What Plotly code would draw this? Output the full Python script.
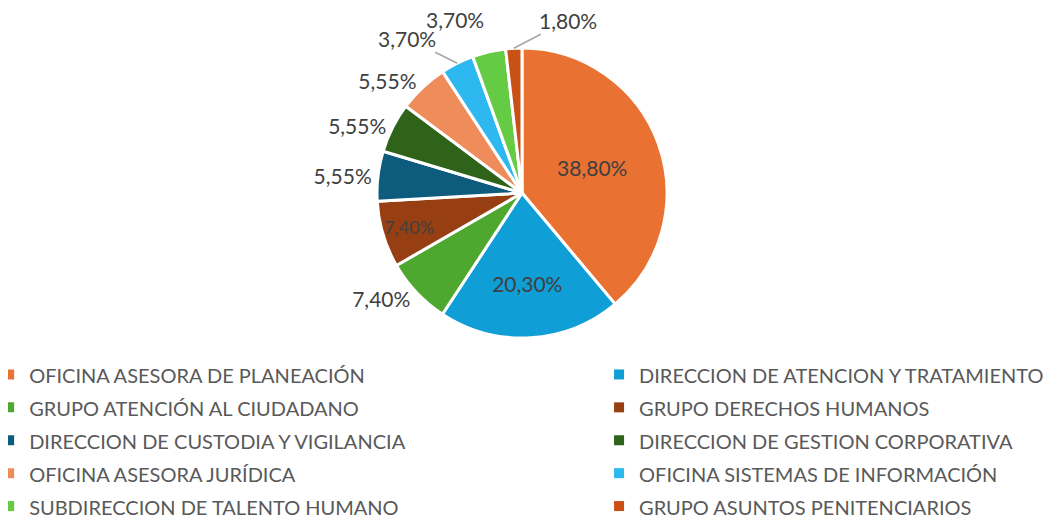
import math
import plotly.graph_objects as go

categories = [
    "OFICINA ASESORA DE PLANEACIÓN",
    "DIRECCION DE ATENCION Y TRATAMIENTO",
    "GRUPO ATENCIÓN AL CIUDADANO",
    "GRUPO DERECHOS HUMANOS",
    "DIRECCION DE CUSTODIA Y VIGILANCIA",
    "DIRECCION DE GESTION CORPORATIVA",
    "OFICINA ASESORA JURÍDICA",
    "OFICINA SISTEMAS DE INFORMACIÓN",
    "SUBDIRECCION DE TALENTO HUMANO",
    "GRUPO ASUNTOS PENITENCIARIOS",
]
values = [38.80, 20.30, 7.40, 7.40, 5.55, 5.55, 5.55, 3.70, 3.70, 1.80]
colors = ["#E97132", "#0F9ED5", "#4EA72E", "#973F12", "#0D5C7D",
          "#2E6319", "#EE8C5C", "#2DB8EF", "#65CB45", "#CA5116"]
# "ann" = label drawn as an annotation next to the slice (crowded top slices)
text_positions = ["inside", "inside", "outside", "inside", "outside",
                  "outside", "outside", "ann", "ann", "ann"]
# pixel offsets of the annotated labels from the slice edge, and whether a leader line shows
label_offsets = {7: (-50, -25, True), 8: (-34, -32, False), 9: (54, -28, True)}

FONT = "Lato"
W, H = 1060, 521
R_PX = 145
DOM_X = [0.2, 0.7698]
DOM_Y = [0.3666, 0.9232]

fig = go.Figure()
fig.add_trace(go.Pie(
    labels=categories,
    values=values,
    sort=False,
    direction="clockwise",
    rotation=0,
    marker=dict(colors=colors, line=dict(color="white", width=3)),
    texttemplate=["%{value:.2f}%" if p != "ann" else "" for p in text_positions],
    textposition=[p if p != "ann" else "none" for p in text_positions],
    insidetextorientation="horizontal",
    textfont=dict(family=FONT, size=21, color="#404040"),
    domain=dict(x=DOM_X, y=DOM_Y),
    hoverinfo="skip",
    showlegend=False,
))

# annotated labels for the small top slices, anchored at the slice's outer edge
total = sum(values)
cum = 0.0
cxp = (DOM_X[0] + DOM_X[1]) / 2
cyp = (DOM_Y[0] + DOM_Y[1]) / 2
for i, v in enumerate(values):
    mid = (cum + v / 2) / total * 2 * math.pi
    cum += v
    if text_positions[i] != "ann":
        continue
    ax, ay, leader = label_offsets[i]
    px = cxp + R_PX * math.sin(mid) / W
    py = cyp + R_PX * math.cos(mid) / H
    label = ("%.2f%%" % v).replace(".", ",")
    fig.add_annotation(x=px, y=py, xref="paper", yref="paper", text=label,
                       showarrow=True, ax=ax, ay=ay, arrowhead=0,
                       arrowwidth=1.5,
                       arrowcolor="#A6A6A6" if leader else "rgba(0,0,0,0)",
                       standoff=0,
                       font=dict(family=FONT, size=21, color="#404040"))

# Legend entries (two columns, row-wise order like the reference)
for i, (cat, col) in enumerate(zip(categories, colors)):
    fig.add_trace(go.Scatter(
        x=[None], y=[None], mode="markers",
        marker=dict(symbol="square", size=10, color=col),
        name='<span style="font-size:20px">%s</span>' % cat,
        legend="legend" if i % 2 == 0 else "legend2",
        hoverinfo="skip",
    ))

legend_common = dict(
    orientation="v",
    yanchor="top", xanchor="left",
    font=dict(family=FONT, size=23, color="#595959"),
    itemclick=False, itemdoubleclick=False,
    traceorder="normal",
    bgcolor="rgba(0,0,0,0)",
)

fig.update_layout(
    width=W, height=H,
    margin=dict(l=0, r=0, t=0, b=0, autoexpand=False),
    paper_bgcolor="white",
    plot_bgcolor="white",
    separators=",.",
    font=dict(family=FONT, color="#595959"),
    xaxis=dict(visible=False),
    yaxis=dict(visible=False),
    legend=dict(x=-0.0178, y=0.3378, **legend_common),
    legend2=dict(x=0.5576, y=0.3378, **legend_common),
)

fig.write_html("out.html")
